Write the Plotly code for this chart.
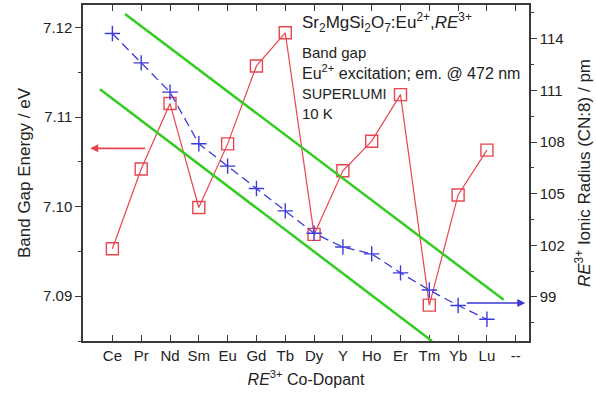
import plotly.graph_objects as go

# ---- data ----
categories = ["Ce", "Pr", "Nd", "Sm", "Eu", "Gd", "Tb", "Dy", "Y", "Ho", "Er", "Tm", "Yb", "Lu", "--"]
dopants = categories[:14]
band_gap = [7.0953, 7.1042, 7.1115, 7.0999, 7.1070, 7.1157, 7.1194, 7.0969,
            7.1040, 7.1073, 7.1125, 7.0890, 7.1013, 7.1063]
ionic_radius = [114.3, 112.6, 110.9, 107.9, 106.6, 105.3, 104.0, 102.7,
                101.9, 101.5, 100.4, 99.4, 98.5, 97.7]
# guide lines (x in category index units, y in band-gap eV)
guide_upper_x = [0.44, 13.58]
guide_upper_y = [7.1215, 7.0896]
guide_lower_x = [-0.43, 11.09]
guide_lower_y = [7.1131, 7.0850]
# arrows: [tail_x, head_x], y
red_arrow_x = [1.19, -0.77]
red_arrow_y = 7.1065
blue_arrow_x = [12.25, 14.33]
blue_arrow_y = 98.65
left_ticks = [7.09, 7.10, 7.11, 7.12]
right_ticks = [99, 102, 105, 108, 111, 114]

RED = "#e8454f"
BLUE = "#3a3ad8"
GREEN = "#33cc22"
AX = "#3a3a3a"
FONT = "Liberation Sans, Arial, sans-serif"

idx = list(range(len(dopants)))

fig = go.Figure()
fig.add_trace(go.Scatter(
    x=idx, y=band_gap, mode="lines+markers", yaxis="y",
    line=dict(color=RED, width=1.2),
    marker=dict(symbol="square-open", size=12, color=RED, line=dict(width=1.4, color=RED)),
    showlegend=False))
fig.add_trace(go.Scatter(
    x=idx, y=ionic_radius, mode="lines+markers", yaxis="y2",
    line=dict(color=BLUE, width=1.3, dash="9px,5px"),
    marker=dict(symbol="cross-thin", size=11, color=BLUE, line=dict(width=1.4, color=BLUE)),
    showlegend=False))

for gx, gy in [(guide_upper_x, guide_upper_y), (guide_lower_x, guide_lower_y)]:
    fig.add_shape(type="line", xref="x", yref="y", x0=gx[0], x1=gx[1], y0=gy[0], y1=gy[1],
                  line=dict(color=GREEN, width=2.5))

annotations = [
    dict(x=red_arrow_x[1], y=red_arrow_y, ax=red_arrow_x[0], ay=red_arrow_y,
         xref="x", yref="y", axref="x", ayref="y", showarrow=True, text="",
         arrowhead=2, arrowsize=1, arrowwidth=1.6, arrowcolor=RED),
    dict(x=blue_arrow_x[1], y=blue_arrow_y, ax=blue_arrow_x[0], ay=blue_arrow_y,
         xref="x", yref="y2", axref="x", ayref="y2", showarrow=True, text="",
         arrowhead=2, arrowsize=1, arrowwidth=1.6, arrowcolor=BLUE),
]

def txt(s, py, size):
    return dict(text=s, x=(300 - 83) / 446, y=(340.7 - py) / 335.7, xref="paper", yref="paper",
                xanchor="left", yanchor="middle", showarrow=False,
                font=dict(family=FONT, size=size, color="#222"))

annotations += [
    txt("Sr<sub>2</sub>MgSi<sub>2</sub>O<sub>7</sub>:Eu<sup>2+</sup>,<i>RE</i><sup>3+</sup>", 22, 17),
    txt("Band gap", 52, 15),
    txt("Eu<sup>2+</sup> excitation; em. @ 472 nm", 72, 16),
    txt("SUPERLUMI", 94, 14.5),
    txt("10 K", 113, 15),
]

fig.update_layout(
    width=596, height=394,
    margin=dict(l=83, r=67, t=5, b=53),
    paper_bgcolor="white", plot_bgcolor="white",
    font=dict(family=FONT, size=15, color="#222"),
    annotations=annotations,
    xaxis=dict(
        automargin=False,
        range=[-1.02, 14.46], tickvals=list(range(len(categories))), ticktext=categories,
        ticks="inside", ticklen=6, tickwidth=1.2, tickcolor=AX,
        showline=True, linecolor=AX, linewidth=1.5, mirror="ticks",
        showgrid=False, zeroline=False,
        tickfont=dict(size=15, color="#222"),
        title=dict(text="<i>RE</i><sup>3+</sup> Co-Dopant", font=dict(size=16), standoff=11)),
    yaxis=dict(
        automargin=False,
        range=[7.085, 7.1225], tickvals=left_ticks, tickformat=".2f",
        ticks="outside", ticklen=6, tickwidth=1.2, tickcolor=AX,
        minor=dict(ticks="outside", ticklen=3, dtick=0.005, tick0=7.085, tickcolor=AX),
        showline=True, linecolor=AX, linewidth=1.5,
        showgrid=False, zeroline=False,
        tickfont=dict(size=15, color="#222"),
        title=dict(text="Band Gap Energy / eV", font=dict(size=17), standoff=8)),
    yaxis2=dict(
        automargin=False,
        range=[96.44, 115.96], tickvals=right_ticks, overlaying="y", side="right",
        ticks="outside", ticklen=6, tickwidth=1.2, tickcolor=AX,
        minor=dict(ticks="outside", ticklen=3, dtick=1.5, tick0=97.5, tickcolor=AX),
        showline=True, linecolor=AX, linewidth=1.5,
        showgrid=False, zeroline=False,
        tickfont=dict(size=15, color="#222"),
        title=dict(text="<i>RE</i><sup>3+</sup> Ionic Radius (CN:8) / pm", font=dict(size=17), standoff=14)),
)

fig.write_html("out.html", config={"displayModeBar": False},
               post_script="document.body.style.margin='0px';")
